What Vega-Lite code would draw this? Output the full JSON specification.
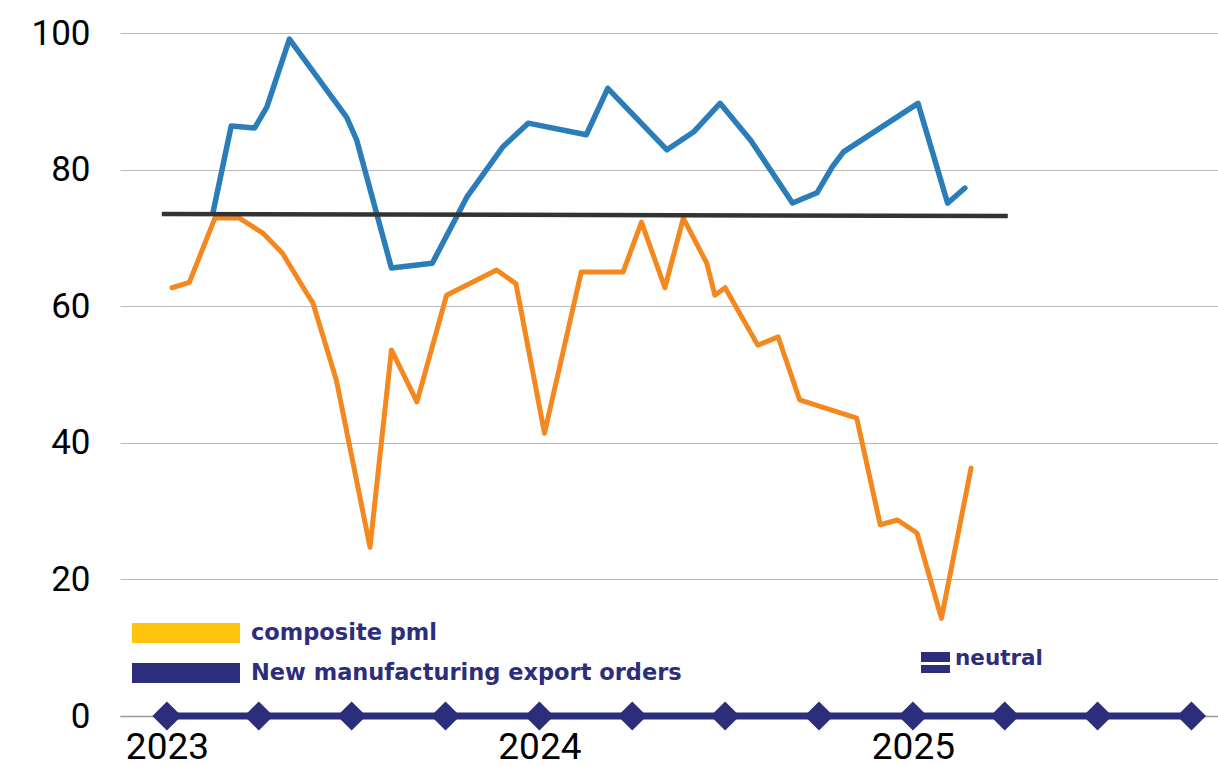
{
  "$schema": "https://vega.github.io/schema/vega-lite/v6.json",
  "width": 1098,
  "height": 683,
  "autosize": {"type": "none"},
  "padding": {"left": 120, "top": 33, "right": 0, "bottom": 50},
  "background": "white",
  "config": {"view": {"stroke": null}, "font": "Roboto"},
  "datasets": {
    "blue": [
      {"date": "2023-02-15", "value": 73.6},
      {"date": "2023-03-05", "value": 86.4},
      {"date": "2023-03-28", "value": 86.1},
      {"date": "2023-04-09", "value": 89.2},
      {"date": "2023-05-01", "value": 99.1},
      {"date": "2023-06-26", "value": 87.7},
      {"date": "2023-07-06", "value": 84.3},
      {"date": "2023-08-09", "value": 65.6},
      {"date": "2023-09-18", "value": 66.3},
      {"date": "2023-10-22", "value": 76.0},
      {"date": "2023-11-26", "value": 83.3},
      {"date": "2023-12-21", "value": 86.8},
      {"date": "2024-02-16", "value": 85.1},
      {"date": "2024-03-08", "value": 91.9},
      {"date": "2024-05-05", "value": 82.9},
      {"date": "2024-05-31", "value": 85.5},
      {"date": "2024-06-26", "value": 89.7},
      {"date": "2024-07-26", "value": 84.3},
      {"date": "2024-09-05", "value": 75.1},
      {"date": "2024-09-29", "value": 76.6},
      {"date": "2024-10-14", "value": 80.4},
      {"date": "2024-10-25", "value": 82.6},
      {"date": "2025-01-06", "value": 89.7},
      {"date": "2025-02-04", "value": 75.1},
      {"date": "2025-02-21", "value": 77.3}
    ],
    "orange": [
      {"date": "2023-01-06", "value": 62.7},
      {"date": "2023-01-23", "value": 63.5},
      {"date": "2023-02-17", "value": 72.9},
      {"date": "2023-03-13", "value": 72.9},
      {"date": "2023-04-05", "value": 70.7},
      {"date": "2023-04-24", "value": 67.8},
      {"date": "2023-05-18", "value": 61.9},
      {"date": "2023-05-24", "value": 60.5},
      {"date": "2023-06-16", "value": 49.2},
      {"date": "2023-07-19", "value": 24.7},
      {"date": "2023-08-09", "value": 53.6},
      {"date": "2023-09-03", "value": 46.0},
      {"date": "2023-10-02", "value": 61.6},
      {"date": "2023-11-20", "value": 65.3},
      {"date": "2023-12-09", "value": 63.3},
      {"date": "2024-01-06", "value": 41.4},
      {"date": "2024-02-11", "value": 65.0},
      {"date": "2024-03-23", "value": 65.0},
      {"date": "2024-04-10", "value": 72.3},
      {"date": "2024-05-03", "value": 62.7},
      {"date": "2024-05-21", "value": 72.9},
      {"date": "2024-06-13", "value": 66.3},
      {"date": "2024-06-21", "value": 61.6},
      {"date": "2024-07-01", "value": 62.7},
      {"date": "2024-08-02", "value": 54.3},
      {"date": "2024-08-22", "value": 55.5},
      {"date": "2024-09-12", "value": 46.3},
      {"date": "2024-11-07", "value": 43.6},
      {"date": "2024-11-30", "value": 28.0},
      {"date": "2024-12-17", "value": 28.7},
      {"date": "2025-01-05", "value": 26.8},
      {"date": "2025-01-29", "value": 14.3},
      {"date": "2025-02-27", "value": 36.3}
    ],
    "neutral": [
      {"date": "2022-12-27", "value": 73.5},
      {"date": "2025-04-04", "value": 73.2}
    ],
    "quarters": [
      {"date": "2023-01-01", "value": 0},
      {"date": "2023-04-01", "value": 0},
      {"date": "2023-07-01", "value": 0},
      {"date": "2023-10-01", "value": 0},
      {"date": "2024-01-01", "value": 0},
      {"date": "2024-04-01", "value": 0},
      {"date": "2024-07-01", "value": 0},
      {"date": "2024-10-01", "value": 0},
      {"date": "2025-01-01", "value": 0},
      {"date": "2025-04-01", "value": 0},
      {"date": "2025-07-01", "value": 0},
      {"date": "2025-10-01", "value": 0}
    ]
  },
  "encoding": {
    "x": {
      "field": "date",
      "type": "temporal",
      "title": null,
      "scale": {
        "type": "utc",
        "domain": [
          {"year": 2022, "month": 11, "date": 16, "utc": true},
          {"year": 2025, "month": 10, "date": 27, "utc": true}
        ]
      },
      "axis": {
        "values": [
          {"year": 2023, "month": 1, "date": 1, "utc": true},
          {"year": 2024, "month": 1, "date": 1, "utc": true},
          {"year": 2025, "month": 1, "date": 1, "utc": true}
        ],
        "format": "%Y",
        "labelFont": "Roboto",
        "labelFontSize": 37,
        "labelColor": "#000000",
        "labelPadding": 13,
        "ticks": false,
        "tickSize": 0,
        "grid": false,
        "domainColor": "#9a9a9a",
        "domainWidth": 1.5,
        "labelFlush": false,
        "labelOverlap": false,
        "labelBound": false,
        "zindex": 0
      }
    },
    "y": {
      "field": "value",
      "type": "quantitative",
      "title": null,
      "scale": {"domain": [0, 100], "nice": false, "zero": true},
      "axis": {
        "values": [0, 20, 40, 60, 80, 100],
        "labelFont": "Roboto",
        "labelFontSize": 35,
        "labelColor": "#000000",
        "labelPadding": 30,
        "ticks": false,
        "tickSize": 0,
        "domain": false,
        "grid": true,
        "gridColor": "#b8b8b8",
        "gridWidth": 1,
        "zindex": 0
      }
    }
  },
  "layer": [
    {
      "data": {"name": "blue"},
      "mark": {"type": "line", "color": "#2B7DBA", "strokeWidth": 5.5, "strokeJoin": "round", "strokeCap": "round"}
    },
    {
      "data": {"name": "orange"},
      "mark": {"type": "line", "color": "#F5871F", "strokeWidth": 5, "strokeJoin": "round", "strokeCap": "round"}
    },
    {
      "data": {"name": "neutral"},
      "mark": {"type": "line", "strokeWidth": 4.5},
      "encoding": {
        "stroke": {
          "datum": "neutral",
          "scale": {"domain": ["neutral"], "range": ["#333333"]},
          "legend": {
            "orient": "none",
            "legendX": 801,
            "legendY": 615,
            "title": null,
            "padding": 0,
            "symbolType": "M-1,-0.72H1V-0.03H-1Z M-1,0.17H1V0.72H-1Z",
            "symbolSize": 841,
            "symbolStrokeWidth": 0,
            "labelOffset": 5,
            "labelFont": "DejaVu Sans",
            "labelFontSize": 21.5,
            "labelFontWeight": "bold",
            "labelColor": "#2D2E7B",
            "encode": {
              "symbols": {
                "update": {
                  "shape": {"value": "M-1,-0.72H1V-0.03H-1Z M-1,0.17H1V0.72H-1Z"},
                  "size": {"value": 841},
                  "fill": {"value": "#2D2E7B"},
                  "fillOpacity": {"value": 1},
                  "stroke": {"value": "transparent"},
                  "strokeWidth": {"value": 0}
                }
              },
              "labels": {"update": {"dy": {"value": -4}}}
            }
          }
        }
      }
    },
    {
      "data": {"name": "quarters"},
      "mark": {"type": "line", "color": "#2D2E7B", "strokeWidth": 7}
    },
    {
      "data": {"name": "quarters"},
      "mark": {"type": "point", "shape": "diamond", "filled": true, "size": 850, "opacity": 1},
      "encoding": {
        "color": {
          "datum": "New manufacturing export orders",
          "scale": {
            "domain": ["composite pml", "New manufacturing export orders"],
            "range": ["#FFC40E", "#2D2E7B"]
          },
          "legend": {
            "orient": "none",
            "legendX": 46,
            "legendY": 580,
            "title": null,
            "padding": 0,
            "rowPadding": 8,
            "symbolType": "M-2.7,-0.5H2.7V0.5H-2.7Z",
            "symbolSize": 1600,
            "symbolStrokeWidth": 0,
            "labelOffset": 45,
            "labelLimit": 700,
            "labelFont": "DejaVu Sans",
            "labelFontSize": 22.5,
            "labelFontWeight": "bold",
            "labelColor": "#2D2E7B",
            "encode": {
              "symbols": {
                "update": {
                  "shape": {"value": "M-2.7,-0.5H2.7V0.5H-2.7Z"},
                  "size": {"value": 1600},
                  "opacity": {"value": 1},
                  "fillOpacity": {"value": 1},
                  "strokeWidth": {"value": 0}
                }
              },
              "labels": {"update": {"dy": {"value": -5}}}
            }
          }
        }
      }
    }
  ]
}
